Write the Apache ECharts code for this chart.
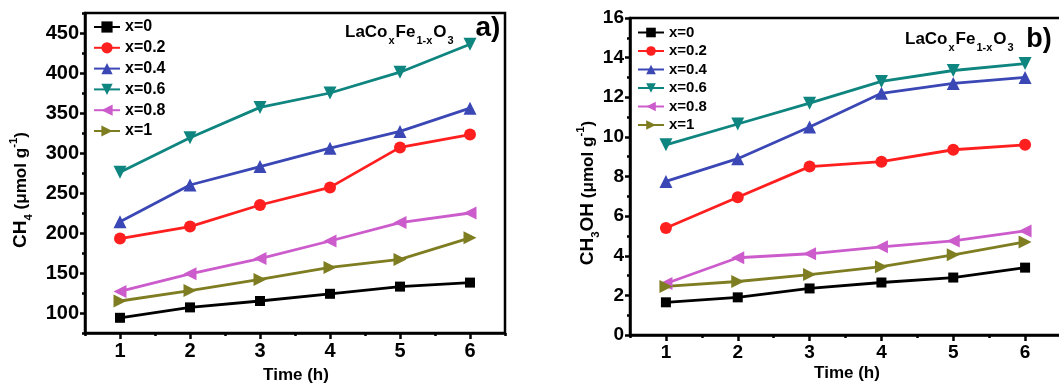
<!DOCTYPE html>
<html><head><meta charset="utf-8">
<script src="https://cdn.jsdelivr.net/npm/echarts@6/dist/echarts.min.js"></script>
<style>html,body{margin:0;padding:0;background:#fff}#c{width:1059px;height:384px}</style>
</head><body><div id="c"></div>
<script>
// ---- data ----
var time = [1, 2, 3, 4, 5, 6];
var names = ['x=0', 'x=0.2', 'x=0.4', 'x=0.6', 'x=0.8', 'x=1'];
// CH4 (umol g-1), panel a
var ch4_x0  = [94, 107, 115, 124, 133, 138];
var ch4_x02 = [193, 208, 235, 257, 307, 323];
var ch4_x04 = [214, 260, 283, 306, 327, 356];
var ch4_x06 = [276, 319, 357, 375, 401, 436];
var ch4_x08 = [127, 149, 168, 190, 213, 225];
var ch4_x1  = [115, 128, 142, 157, 167, 194];
// CH3OH (umol g-1), panel b
var meoh_x0  = [1.65, 1.9, 2.35, 2.65, 2.9, 3.4];
var meoh_x02 = [5.4, 6.95, 8.5, 8.75, 9.35, 9.6];
var meoh_x04 = [7.75, 8.9, 10.5, 12.2, 12.7, 13.0];
var meoh_x06 = [9.6, 10.65, 11.7, 12.8, 13.35, 13.7];
var meoh_x08 = [2.6, 3.9, 4.1, 4.45, 4.75, 5.25];
var meoh_x1  = [2.45, 2.7, 3.05, 3.45, 4.05, 4.7];
// tick labels
var xTicks = [1, 2, 3, 4, 5, 6];
var yTicksA = [100, 150, 200, 250, 300, 350, 400, 450];
var yTicksB = [0, 2, 4, 6, 8, 10, 12, 14, 16];

var colors = ['#000000', '#ff1f1f', '#3a47b5', '#0f8580', '#cc5ccc', '#7f7d22'];
var symbols = ['rect', 'circle', 'triangle', 'triangle', 'triangle', 'triangle'];
var rots = [0, 0, 0, 180, 90, -90];
var sizes = [10, 12, 13, 13, 13, 13];
var FONT = '"Liberation Sans", Arial, sans-serif';

function pairs(arr) { return time.map(function (t, i) { return [t, arr[i]]; }); }

var chart = echarts.init(document.getElementById('c'), null, {renderer: 'canvas'});

var setsA = [ch4_x0, ch4_x02, ch4_x04, ch4_x06, ch4_x08, ch4_x1];
var setsB = [meoh_x0, meoh_x02, meoh_x04, meoh_x06, meoh_x08, meoh_x1];

var series = [];
function addSeries(sets, xi, yi) {
  sets.forEach(function (s, i) {
    series.push({
      type: 'line', name: names[i], xAxisIndex: xi, yAxisIndex: yi,
      data: pairs(s), symbol: symbols[i], symbolRotate: rots[i], symbolSize: sizes[i],
      showSymbol: true, animation: false,
      lineStyle: {color: colors[i], width: 2.8},
      itemStyle: {color: colors[i], borderWidth: 0}
    });
  });
}
addSeries(setsA, 0, 0);
addSeries(setsB, 2, 2);

var axisLine = {show: true, lineStyle: {color: '#000', width: 2.5}};

function xPair(gi, fs) {
  return [
    {type: 'value', gridIndex: gi, position: 'bottom', min: 0.5, max: 6.5, interval: 0.5,
     axisLine: axisLine, axisTick: {show: true, length: 3, lineStyle: {color: '#000', width: 2.5}},
     axisLabel: {show: false}, splitLine: {show: false}},
    {type: 'value', gridIndex: gi, position: 'bottom', min: 0.5, max: 6.5, interval: 0.5,
     axisLine: {show: false},
     axisTick: {show: true, length: 6, customValues: xTicks, lineStyle: {color: '#000', width: 2.5}},
     axisLabel: {show: true, customValues: xTicks, margin: 8, color: '#000', fontFamily: FONT, fontWeight: 'bold', fontSize: fs},
     splitLine: {show: false}}
  ];
}
function yPair(gi, min, max, minorI, ticks, fs) {
  return [
    {type: 'value', gridIndex: gi, position: 'left', min: min, max: max, interval: minorI,
     axisLine: axisLine, axisTick: {show: true, length: 3, lineStyle: {color: '#000', width: 2.5}},
     axisLabel: {show: false}, splitLine: {show: false}},
    {type: 'value', gridIndex: gi, position: 'left', min: min, max: max, interval: minorI,
     axisLine: {show: false},
     axisTick: {show: true, length: 5, customValues: ticks, lineStyle: {color: '#000', width: 2.5}},
     axisLabel: {show: true, customValues: ticks, margin: 6, color: '#000', fontFamily: FONT, fontWeight: 'bold', fontSize: fs},
     splitLine: {show: false}}
  ];
}

var xAxes = xPair(0, 20).concat(xPair(1, 19));
var yAxes = yPair(0, 75, 475, 25, yTicksA, 20).concat(yPair(1, 0, 16, 1, yTicksB, 19));

function legend(left, top, itemH, gap, fs) {
  return {
    data: names, orient: 'vertical', left: left, top: top, padding: 0,
    itemWidth: 26, itemHeight: itemH, itemGap: gap, itemTextGap: 5,
    selectedMode: false,
    textStyle: {color: '#000', fontFamily: FONT, fontWeight: 'bold', fontSize: fs}
  };
}

function formula(x, y, fs, ss) {
  return {
    type: 'text', x: x, y: y, silent: true,
    style: {
      text: '{m|LaCo}{s|x}{m|Fe}{s|1-x}{m|O}{s|3}',
      align: 'left', verticalAlign: 'middle', textAlign: 'left', textVerticalAlign: 'middle',
      rich: {
        m: {fontFamily: FONT, fontWeight: 'bold', fontSize: fs, fill: '#000', color: '#000'},
        s: {fontFamily: FONT, fontWeight: 'bold', fontSize: ss, fill: '#000', color: '#000', padding: [fs * 1.0, 1, 0, 1]}
      }
    }
  };
}
function label(x, y, txt, fs) {
  return {type: 'text', x: x, y: y, silent: true,
    style: {text: txt, fontFamily: FONT, fontWeight: 'bold', fontSize: fs, fill: '#000',
      align: 'center', verticalAlign: 'middle', textAlign: 'center', textVerticalAlign: 'middle'}};
}
function yName(x, y, sub, extra, fs) {
  return {
    type: 'text', x: x, y: y, rotation: Math.PI / 2, silent: true,
    style: {
      text: '{m|CH}{s|' + sub + '}' + (extra ? '{m|' + extra + '}' : '') + '{u| (μmol g}{p|-1}{u|)}',
      align: 'center', verticalAlign: 'middle', textAlign: 'center', textVerticalAlign: 'middle',
      rich: {
        m: {fontFamily: FONT, fontWeight: 'bold', fontSize: fs, fill: '#000', color: '#000'},
        s: {fontFamily: FONT, fontWeight: 'bold', fontSize: fs * 0.6, fill: '#000', color: '#000', padding: [fs * 0.8, 0, 0, 0]},
        u: {fontFamily: FONT, fontWeight: 'bold', fontSize: fs * 0.9, fill: '#000', color: '#000'},
        p: {fontFamily: FONT, fontWeight: 'bold', fontSize: fs * 0.6, fill: '#000', color: '#000', padding: [0, 0, fs * 0.7, 0]}
      }
    }
  };
}

var option = {
  animation: false,
  backgroundColor: '#fff',
  grid: [
    {left: 85, top: 13, width: 420, height: 320, show: true, borderColor: '#000', borderWidth: 2.5, backgroundColor: 'transparent', outerBoundsMode: 'none', containLabel: false},
    {left: 630, top: 18, width: 431, height: 317, show: true, borderColor: '#000', borderWidth: 2.5, backgroundColor: 'transparent', outerBoundsMode: 'none', containLabel: false}
  ],
  xAxis: xAxes,
  yAxis: yAxes,
  legend: [legend(93, 19, 14, 4.8, 16), legend(637, 25, 12, 3.5, 15)],
  series: series,
  graphic: [
    formula(345, 32, 17, 11),
    label(488, 28, 'a)', 28),
    formula(905, 39, 17, 11),
    label(1039, 40, 'b)', 27),
    label(296, 375, 'Time (h)', 17),
    label(847, 373, 'Time (h)', 17),
    yName(21, 190, '4', '', 19),
    yName(588, 193, '3', 'OH', 19)
  ]
};
chart.setOption(option);
</script></body></html>
